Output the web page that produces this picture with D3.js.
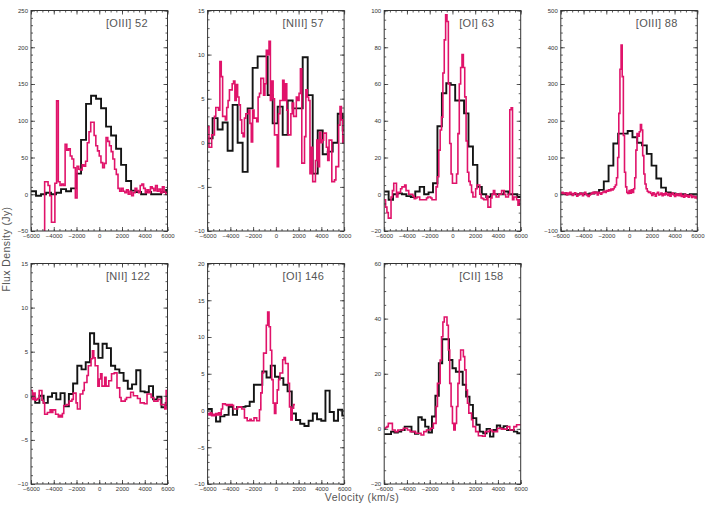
<!DOCTYPE html>
<html><head><meta charset="utf-8">
<script src="https://cdn.jsdelivr.net/npm/d3@7"></script>
<style>body{margin:0;background:#fff}svg{display:block;font-family:"Liberation Sans",Arial,sans-serif}</style>
</head><body>
<svg id="chart" width="707" height="505"></svg>
<script>
// ---------------- DATA ----------------
const titles = ["[OIII] 52", "[NIII] 57", "[OI] 63", "[OIII] 88", "[NII] 122", "[OI] 146", "[CII] 158"];
const velocityDomain = [-6000, 6000];
const xTicks = [-6000, -4000, -2000, 0, 2000, 4000, 6000];
const yDomains = [[-50, 250], [-10, 15], [-20, 100], [-100, 500], [-10, 15], [-10, 20], [-20, 60]];
const yMajorSteps = [50, 5, 20, 100, 5, 5, 20];
const yMinorSteps = [10, 1, 5, 20, 1, 1, 5];

// black spectra: [start velocity, bin width], values
const blackBins = [[-6000, 440], [-6000, 440], [-6000, 390], [-6000, 420], [-6000, 370], [-6000, 370], [-6000, 300]];
const black52 = [4, -2, 0, 2, 0, 2, 7, 4, 8, 28, 74, 123, 134, 130, 117, 92, 80, 62, 40, 18, 5, 3, 0, 3, 0, 0, 3, 6];
const black57 = [0.5, 2.8, 1.5, 2.3, -0.9, 4.3, 0, -3.3, 3.9, 8.5, 9.8, 9.8, 5.4, 2.2, 4.1, 0.9, 4.8, 3.9, 3.9, 9.7, 5.4, -3.5, 1.4, -1.3, -1.0, 0, 3.3, 1.4];
const black63 = [1.5, -3, 0, 0.5, 0, -1, -1.5, 1.5, 4, 0, 1, 6, 37, 55, 60.4, 59.5, 51, 51, 44, 26, 16, 4, 0, -1.5, 0, 0, 0, 1.5, 0, 0, -1.5];
const black88 = [2, 0, 0, 0, 2, 0, 2, 5, 12, 35, 78, 138, 165, 165, 172, 155, 140, 133, 110, 78, 43, 18, 5, 2, 0, 0, -2, 0, 0];
const black122 = [-0.2, -0.8, 0, -0.8, -0.1, 0.3, -0.4, 0.3, -1.2, 0.2, 1.4, 3.4, 3.0, 3.8, 7.1, 5.9, 4.3, 5.9, 5.4, 3.4, 3.0, 2.6, 1.7, 0.8, 1.3, 2.9, 0.5, 0.4, 1.1, -0.4, -0.1, -1.3, -0.8];
const black146 = [0.2, -0.6, -1.5, -0.8, -0.6, 0.5, -0.6, 0.5, 0.5, 0.6, 1.2, 3.5, 3.5, 5.3, 4.5, 6.1, 4.6, 4.4, 3.5, 2.6, -0.4, -1.3, -1.8, -2.1, -1.4, -0.4, -1.2, -1.4, 2.7, -0.2, -1.4, 0.1, -0.7];
const black158 = [-1.9, -1.9, -1.0, -1.3, -1.0, -0.4, 0.8, 0.8, -1.0, -1.8, 4.2, 3.3, 0.8, -1.3, 4.5, 12, 23.8, 32.5, 32.5, 25, 22, 20.7, 20.7, 16, 11.7, 8.7, 3.9, 1.5, -1.0, -1.6, 0, -2.8, -0.4, 1.2, 0.2, 1.0, -0.4, -0.4, -1.0, -1.6];

// magenta spectra: [start velocity, bin width], values
const magBins = [[-5100, 150], [-6000, 120], [-6000, 120], [-6000, 100], [-6000, 120], [-6000, 120], [-6000, 120]];
const mag52 = [-60, -60, 17, 17, 12, -2, -38, -38, 15, 127, 17, 12, 14, 12, 68, 60, 62, 52, 48, 36, -5, 38, 34, 33, 40, 38, 45, 70, 85, 98, 98, 80, 66, 59, 52, 43, 36, 42, 77, 72, 66, 58, 48, 34, 27, 8, 4, 8, 4, 2, 6, 0, 4, -2, 2, 8, 5, 2, 12, 14, 8, 2, 6, 2, 10, 8, 5, 12, 4, 7, 2, 10, 3, 0];
const mag57 = [1.8, -0.5, -0.5, 0.9, 0.9, 3, 4, 4, 3.7, 9.2, 7.5, 3, 3, 2.6, 4, 4.8, 6, 6, 6.7, 7, 4.8, 6.6, 5.2, 4.3, 2.6, 1.1, 0.7, 2.8, 3.3, 3.3, 3.7, 2.2, 0.1, 3.7, 2.8, 2.8, 2.4, 5.2, 5.6, 7.3, 7.3, 5.4, 6.7, 10.5, 10, 11.5, 4.8, 7, 5, 0.9, 0.9, -2.7, 3.3, 4.8, 4.8, 7.1, 4.8, 6.7, 3.7, 0.9, 0.9, 3.3, 4.5, 3, 3, 5.2, 4.8, 5.6, 8.4, -2.3, -2.3, 0.7, 6, 5.2, 4.8, -3.5, -0.5, -4.4, -4.4, -2, 0.3, -2.7, 1.2, 0, 0.3, 1.1, 1.1, -0.5, -2, 0.3, 0.3, -4.4, -4.4, -4.2, -2.7, -2.7, 2, 4.1, 2.6, 0, 0.9];
const mag63 = [-3, -7, -10, -13, -13, -1.5, 2, 6, 6, -1.5, 1, 1, 3, 4, 4, 5, 2, 2, 0, 0, 0, -1, -2.4, -2, -1.5, -1.5, -3, -3, -3, -3, -3, -2, -1.5, -1.5, -2, -3, -3, -3, 4, 9.5, 24, 35, 42, 66, 84, 97.6, 94, 60, 27.6, 11, 6, 6, 6, 11, 33, 60, 69, 76, 69, 53, 29, 12, 7, 5, 1, -1.5, -1.5, 3, 5, 5, 0, -2, -2.4, -3, -3, -1, -7, -7, -2, 0, 2, 0, -1.5, -1.5, 0, 0, 2, 2, 0, -1.5, -1.5, 0, 46, 47, -3, -1.5, -1.5, -3, -6, -3, -3];
const mag88 = [3, 5, 0, 2, 4, -2, 3, 0, 5, 2, -3, 0, 4, 2, -5, -2, 0, 3, 1, -4, 2, 5, 0, -3, -6, -2, 0, 3, 5, 2, 6, 4, -2, 5, 3, 0, 4, 6, 8, 5, 10, 8, 12, 10, 14, 12,
  15, 20, 25, 45, 100, 220, 340, 406, 320, 160, 60, 20, 5, 2, 10, 3, 12, 5, 15, 45, 120, 165, 158, 170, 190, 175, 105, 55, 28, 15, 8, 5,
  6, 2, -3, 4, 0, -5, 2, 5, -2, 0, 3, -4, 1, -2, 4, 0, -3, 2, -5, 0, 3, -2, -6, 1, -3, 0, -4, 2, -6, -3, -8, 0, -5, -3, -8, -4, -2, -9, -5, -7, -10, -6, -12];
const mag122 = [0.6, -0.4, 0.3, -0.5, -0.4, -0.3, 0.6, 0.6, -0.5, -0.8, -2.1, -2.1, -1.9, -1.9, -1.6, -1.9, -1.6, -1.6, -2.1, -2.1, -2.4, -2.2, -2.4, -2.0, -1.1, -1.1, -1.0, -1.0, -0.6, -0.6, -0.4, 0.3, 0.3, -0.8, -1.5, -1.5, 0.2, 0.2, 0.6, 1.5, 1.5, 2.3, 3.4, 3.4, 4.2, 5.1, 4.3, 3.4, 3.4, 1.1, 1.9, 2.5, 1.1, 1.1, 2.1, 1.1, 1.1, 1.7, 1.7, 2.5, 2.5, 2.6, 2.6, 0.9, 0.9, -0.2, -0.6, -0.6, -0.6, -0.4, -0.2, -0.2, -0.2, 0.4, 0.4, 0.0, 0.0, 0.0, -0.3, -0.3, -0.8, -0.8, -0.8, -0.9, -0.9, 0.2, 0.2, 0.2, -0.2, -0.2, -0.6, -0.6, -0.6, -0.4, -0.4, -1.0, -1.0, -1.0, -1.5, 0.6, 0.6];
const mag146 = [-0.4, -0.6, -0.3, -0.7, -0.5, -0.7, -0.4, -0.6, -0.3, -0.6, 0.2, 0.9, 0.9, 0.8, 0.7, 0.8, 0.7, 0.8, 0.7, 0.2, 0.2, 0.2, 0.5, 0.5, 0.5, 0.2, 0.2, -1.0, -1.0, -1.4, -1.4, -1.2, -1.4, -1.4, -1.0, -1.0, -1.4, -1.4, 0.1, 2.4, 5.1, 7.8, 7.8, 11.6, 13.4, 11.4, 8.2, 4.2, 1.0, -0.4, 1.0, 2.8, 4.2, 5.1, 5.1, 6.9, 7.2, 6.4, 6.4, 3.7, 0.5, -1.3, 0.3, 0.8];
const mag158 = [0.2, 0.5, 0.8, 2.0, 2.0, 2.0, -0.4, -0.4, -1.0, -1.0, -0.4, -0.4, -0.4, -0.4, 0.2, 0.2, 0.2, -0.4, -0.4, -1.0, -1.0, -1.0, -1.0, -1.6, -1.6, -1.6, -1.6, -2.2, -2.2, -1.0, -1.0, -0.4, -0.4, -0.4, 0.2, 0.2, 2.0, 2.0, 8.1, 16.5, 16.5, 25, 33.4, 38.8, 40.6, 40.6, 37.6, 28.6, 16.5, 8.1, 2.0, -0.4, 2.0, 8.1, 16.5, 25, 28.6, 28.6, 26.2, 21.4, 14.1, 9.3, 5.7, 5.7, 3.3, 0.8, 0.8, -1.0, -1.0, -2.5, -2.5, -2.5, -2.7, -2.7, -1.0, -1.0, -1.0, -0.4, -0.4, -1.0, -1.0, -1.0, -1.0, 0.2, 0.2, 0.2, -0.1, -0.1, -0.1, -0.1, 0.8, 0.8, -0.4, -0.4, -0.4, 0.8, 0.8, 1.5, 1.5, 1.5, 1.5];

const blackSeries = [black52, black57, black63, black88, black122, black146, black158];
const magSeries = [mag52, mag57, mag63, mag88, mag122, mag146, mag158];
const xAxisTitle = "Velocity (km/s)";
const yAxisTitle = "Flux Density (Jy)";

// ---------------- DRAWING ----------------
const svg = d3.select('#chart');
const W = 136.5, H = 220.5;
const lefts = [31, 207.6, 384.2, 560.8];
const tops = [10.5, 263.5];
const BLACK = '#141414', MAG = '#e0136a', AXIS = '#333', TXT = '#555';

function stepPoints(bins, vals) {
  const [s, w] = bins;
  const pts = vals.map((v, k) => [s + k * w, v]);
  pts.push([s + vals.length * w, vals[vals.length - 1]]);
  return pts;
}
function range(a, b, st) { const r = []; for (let v = a; v <= b + 1e-9; v += st) r.push(+v.toFixed(6)); return r; }

titles.forEach((title, i) => {
  const col = i % 4, row = Math.floor(i / 4);
  const g = svg.append('g').attr('transform', `translate(${lefts[col]},${tops[row]})`);
  const x = d3.scaleLinear().domain(velocityDomain).range([0, W]);
  const y = d3.scaleLinear().domain(yDomains[i]).range([H, 0]);

  const cid = 'clip' + i;
  g.append('clipPath').attr('id', cid).append('rect').attr('width', W).attr('height', H);
  const line = d3.line().x(d => x(d[0])).y(d => y(d[1])).curve(d3.curveStepAfter);
  const plot = g.append('g').attr('clip-path', `url(#${cid})`);
  plot.append('path').datum(stepPoints(blackBins[i], blackSeries[i]))
    .attr('d', line).attr('fill', 'none').attr('stroke', BLACK).attr('stroke-width', 1.9).attr('stroke-linejoin', 'miter');
  plot.append('path').datum(stepPoints(magBins[i], magSeries[i]))
    .attr('d', line).attr('fill', 'none').attr('stroke', MAG).attr('stroke-width', 1.6).attr('stroke-linejoin', 'miter');

  // axes ticks (inward)
  const xMinor = range(-6000, 6000, 500);
  const [y0, y1] = yDomains[i];
  const yMajor = range(y0, y1, yMajorSteps[i]);
  const yMinor = range(y0, y1, yMinorSteps[i]);
  const fmt = d3.format('d');

  const axes = [
    [d3.axisBottom(x).tickValues(xTicks).tickSize(-4).tickFormat(fmt).tickPadding(3), `translate(0,${H})`, true],
    [d3.axisBottom(x).tickValues(xMinor).tickSize(-2).tickFormat(''), `translate(0,${H})`, false],
    [d3.axisTop(x).tickValues(xTicks).tickSize(-4).tickFormat(''), null, false],
    [d3.axisTop(x).tickValues(xMinor).tickSize(-2).tickFormat(''), null, false],
    [d3.axisLeft(y).tickValues(yMajor).tickSize(-4).tickFormat(fmt).tickPadding(3), null, true],
    [d3.axisLeft(y).tickValues(yMinor).tickSize(-2).tickFormat(''), null, false],
    [d3.axisRight(y).tickValues(yMajor).tickSize(-4).tickFormat(''), `translate(${W},0)`, false],
    [d3.axisRight(y).tickValues(yMinor).tickSize(-2).tickFormat(''), `translate(${W},0)`, false]
  ];
  axes.forEach(([ax, tr]) => {
    const a = g.append('g').call(ax.tickSizeOuter(0));
    if (tr) a.attr('transform', tr);
    a.select('.domain').remove();
    a.selectAll('line').attr('stroke', AXIS).attr('stroke-width', 0.8);
    a.selectAll('text').attr('font-size', 6).attr('fill', '#333').attr('font-family', '"Liberation Sans",Arial,sans-serif');
  });

  g.append('rect').attr('width', W).attr('height', H).attr('fill', 'none').attr('stroke', AXIS).attr('stroke-width', 1);

  g.append('text').attr('x', 75).attr('y', 16).text(title)
    .attr('font-size', 11).attr('fill', TXT).attr('letter-spacing', 0.3);
});

svg.append('text').attr('transform', 'translate(10,249) rotate(-90)').attr('text-anchor', 'middle')
  .attr('font-size', 10.5).attr('fill', TXT).attr('letter-spacing', 0.4).text(yAxisTitle);
svg.append('text').attr('x', 362).attr('y', 501).attr('text-anchor', 'middle')
  .attr('font-size', 10.5).attr('fill', TXT).attr('letter-spacing', 0.4).text(xAxisTitle);
</script>
</body></html>
